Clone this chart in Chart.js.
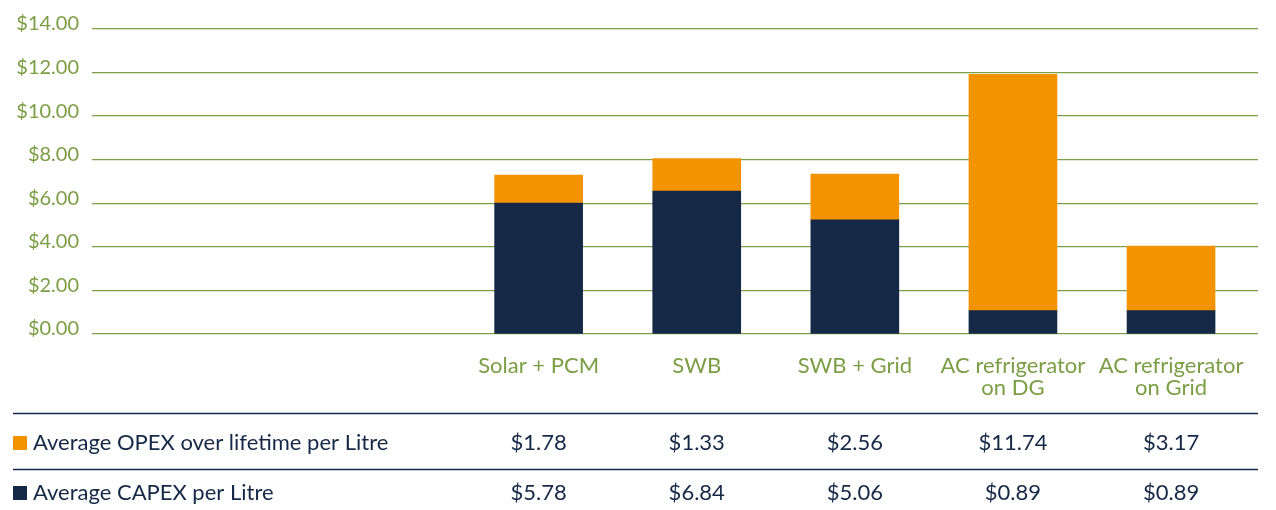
<!DOCTYPE html>
<html>
<head>
<meta charset="utf-8">
<script src="https://cdn.jsdelivr.net/npm/chart.js@4.4.1/dist/chart.umd.min.js"></script>
<style>
  html, body { margin: 0; padding: 0; background: #ffffff; }
  #wrap { width: 1276px; height: 510px; }
</style>
</head>
<body>
<div id="wrap"><canvas id="cost-chart" width="1276" height="510"></canvas></div>
<script>
// bar values, table figures as printed
const categories = [['Solar + PCM'], ['SWB'], ['SWB + Grid'], ['AC refrigerator', 'on DG'], ['AC refrigerator', 'on Grid']];
const capexValues = [6.01, 6.56, 5.24, 1.07, 1.07];
const opexValues = [1.29, 1.49, 2.10, 10.85, 2.97];
const opexTableLabels = ['$1.78', '$1.33', '$2.56', '$11.74', '$3.17'];
const capexTableLabels = ['$5.78', '$6.84', '$5.06', '$0.89', '$0.89'];
const seriesNames = ['Average CAPEX per Litre', 'Average OPEX over lifetime per Litre'];

const ORANGE = '#f49300';
const NAVY = '#152947';
const GREEN = '#7b9e45';
const GRID = '#7d9f48';
const FONT = 'Lato, "Open Sans", sans-serif';

function points(values) {
    return values.map((v, i) => ({ x: i, y: v }));
}

const tablePlugin = {
    id: 'dataTable',
    afterDraw(chart) {
        const ctx = chart.ctx;
        const xScale = chart.scales.x;
        const rows = [
            { name: seriesNames[1], color: ORANGE, labels: opexTableLabels, y: 443 },
            { name: seriesNames[0], color: NAVY, labels: capexTableLabels, y: 493 }
        ];
        ctx.save();
        ctx.strokeStyle = NAVY;
        ctx.lineWidth = 1.5;
        [413.5, 469.5].forEach(yy => {
            ctx.beginPath();
            ctx.moveTo(13, yy);
            ctx.lineTo(1258, yy);
            ctx.stroke();
        });
        ctx.font = '22px ' + FONT;
        ctx.textBaseline = 'middle';
        rows.forEach(row => {
            ctx.fillStyle = row.color;
            ctx.fillRect(13, row.y - 7, 14, 14);
            ctx.fillStyle = NAVY;
            ctx.textAlign = 'left';
            ctx.fillText(row.name, 33, row.y);
            ctx.textAlign = 'center';
            row.labels.forEach((t, i) => {
                ctx.fillText(t, xScale.getPixelForValue(i), row.y);
            });
        });
        ctx.restore();
    }
};

new Chart(document.getElementById('cost-chart'), {
    type: 'bar',
    data: {
        datasets: [
            { label: seriesNames[0], data: points(capexValues), backgroundColor: NAVY, barThickness: 88 },
            { label: seriesNames[1], data: points(opexValues), backgroundColor: ORANGE, barThickness: 88 }
        ]
    },
    options: {
        responsive: false,
        animation: false,
        devicePixelRatio: 1,
        layout: { padding: { top: 29, right: 18, left: 0, bottom: 0 } },
        plugins: { legend: { display: false }, tooltip: { enabled: false } },
        scales: {
            x: {
                type: 'linear',
                stacked: true,
                offset: false,
                min: -2.825,
                max: 4.55,
                grid: { display: false, offset: false },
                border: { display: false },
                afterBuildTicks: s => { s.ticks = categories.map((c, i) => ({ value: i })); },
                afterFit: s => { s.height = 176; },
                ticks: {
                    autoSkip: false,
                    maxRotation: 0,
                    padding: 13,
                    color: GREEN,
                    font: { family: FONT, size: 22, lineHeight: 1.0 },
                    callback: v => categories[v]
                }
            },
            y: {
                stacked: true,
                min: 0,
                max: 14,
                afterFit: s => { s.width = 92; },
                grid: { color: GRID, lineWidth: 1.3, drawTicks: false },
                border: { display: false },
                ticks: {
                    stepSize: 2,
                    padding: 13,
                    labelOffset: -5,
                    color: GREEN,
                    font: { family: FONT, size: 20 },
                    callback: v => '$' + v.toFixed(2)
                }
            }
        }
    },
    plugins: [tablePlugin]
});
</script>
</body>
</html>
